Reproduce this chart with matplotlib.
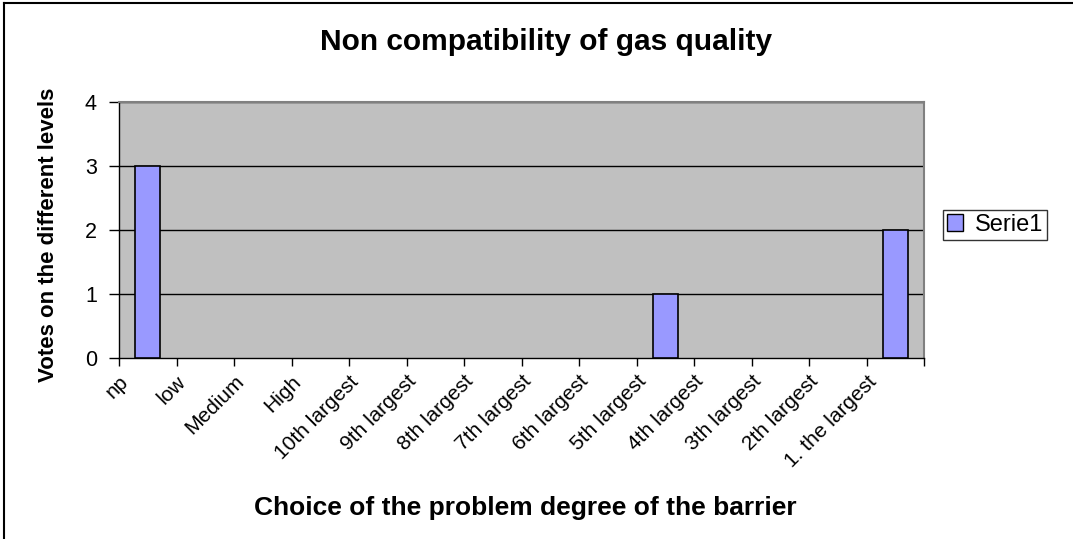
import numpy as np
import matplotlib
matplotlib.use("Agg")
import matplotlib.pyplot as plt
from matplotlib.patches import Patch
from matplotlib.lines import Line2D

plt.rcParams["font.family"] = ["Liberation Sans", "DejaVu Sans"]

categories = ["np", "low", "Medium", "High", "10th largest", "9th largest",
              "8th largest", "7th largest", "6th largest", "5th largest",
              "4th largest", "3th largest", "2th largest", "1. the largest"]
votes = [3, 0, 0, 0, 0, 0, 0, 0, 0, 1, 0, 0, 0, 2]
y_ticks = [0, 1, 2, 3, 4]
series_name = "Serie1"

fig = plt.figure(figsize=(10.73, 5.39), dpi=100)
ax = fig.add_axes([119 / 1073, 1 - 358 / 539, (924 - 119) / 1073, (358 - 102) / 539])

n = len(categories)
x = np.arange(n)
ax.set_facecolor("#C0C0C0")
for y in y_ticks[1:]:
    ax.axhline(y, color="black", lw=1.0, zorder=1)
# empty categories get no outline
lw = [1.2 if v > 0 else 0 for v in votes]
ax.bar(x + 0.5, votes, width=0.43, color="#9999FF", edgecolor="black",
       linewidth=lw, zorder=3, label=series_name)

ax.set_xlim(0, n)
ax.set_ylim(0, 4)
ax.set_yticks(y_ticks)
ax.set_yticklabels([str(v) for v in y_ticks], fontsize=15.5)
ax.set_xticks(np.arange(n + 1))
ax.set_xticklabels(categories + [""], rotation=45, ha="right", va="top",
                   rotation_mode="anchor", fontsize=15)
ax.tick_params(axis="x", length=6, width=1, pad=4)
ax.tick_params(axis="y", length=7, width=1, pad=9)

for s in ["top", "right"]:
    ax.spines[s].set_color("#808080")
    ax.spines[s].set_linewidth(1.5)
for s in ["left", "bottom"]:
    ax.spines[s].set_color("black")
    ax.spines[s].set_linewidth(1.0)

ax.set_ylabel("Votes on the different levels", fontsize=16, fontweight="bold")
ax.yaxis.set_label_coords((49 - 119) / 805, (358 - 235) / 256)
ax.yaxis.label.set_va("center")
ax.set_xlabel("Choice of the problem degree of the barrier", fontsize=19,
              fontweight="bold")
ax.xaxis.set_label_coords((525 - 119) / 805, -(508 - 358) / 256)
ax.xaxis.label.set_va("center")
fig.text(546 / 1073, 1 - 42 / 539, "Non compatibility of gas quality",
         fontsize=21.5, fontweight="bold", ha="center", va="center")

leg = fig.legend(handles=[Patch(facecolor="#9999FF", edgecolor="black", label=series_name)],
                 loc="center left", bbox_to_anchor=(943 / 1073, 1 - 225 / 539),
                 fontsize=17, frameon=True, fancybox=False, borderpad=0.15,
                 handlelength=0.7, handleheight=0.7, handletextpad=0.5,
                 borderaxespad=0)
leg.get_frame().set_edgecolor("black")
leg.get_frame().set_linewidth(1.0)

# outer chart border (left and top visible)
fig.add_artist(Line2D([4 / 1073, 4 / 1073], [0, 1 - 3 / 539], color="black", lw=1.5))
fig.add_artist(Line2D([4 / 1073, 1], [1 - 3 / 539, 1 - 3 / 539], color="black", lw=1.5))

fig.savefig("out.png", dpi=100)
